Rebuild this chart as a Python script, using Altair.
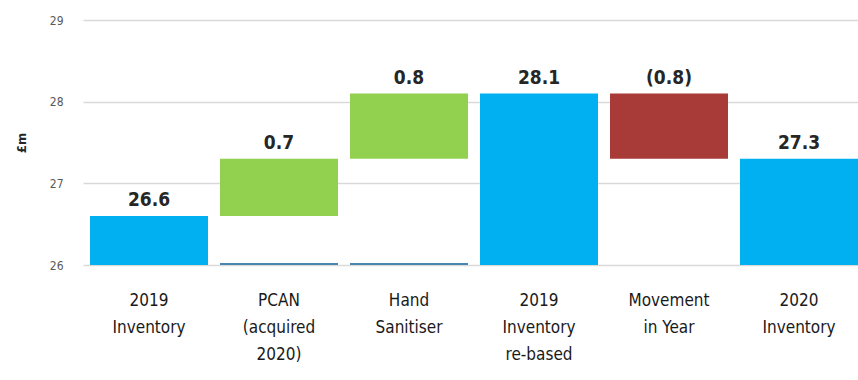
import altair as alt
import pandas as pd

categories = ["2019\nInventory", "PCAN\n(acquired\n2020)", "Hand\nSanitiser",
              "2019\nInventory\nre-based", "Movement\nin Year", "2020\nInventory"]
starts = [26.0, 26.6, 27.3, 26.0, 28.1, 26.0]
ends = [26.6, 27.3, 28.1, 28.1, 27.3, 27.3]
labels = ["26.6", "0.7", "0.8", "28.1", "(0.8)", "27.3"]
kinds = ["total", "increase", "increase", "total", "decrease", "total"]
base_stub = [False, True, True, False, False, False]

df = pd.DataFrame({
    "cat": categories, "start": starts, "end": ends, "label": labels, "kind": kinds,
})
df["top"] = df[["start", "end"]].max(axis=1)
df["lo"] = df[["start", "end"]].min(axis=1)

stub = pd.DataFrame({"cat": [c for c, b in zip(categories, base_stub) if b]})
stub["y0"] = 26.0
stub["y1"] = 26.025

FONT = "Liberation Sans Narrow, DejaVu Sans Condensed, Roboto Condensed, Arial Narrow, sans-serif"

xscale = alt.Scale(paddingInner=0.0923, paddingOuter=0.027, align=1)
xaxis = alt.Axis(title=None, labelExpr="split(datum.value, '\\n')",
                 labelAngle=0, labelFontSize=17, labelColor="#1a1a1a",
                 labelFont=FONT, labelLineHeight=27, labelPadding=27,
                 domain=False, ticks=False, grid=False, labelBaseline="top")
yscale = alt.Scale(domain=[26, 29], nice=False, zero=False)
yaxis = alt.Axis(title="£m", values=[26, 27, 28, 29], grid=True, format="d",
                 gridColor="#d9d9d9", gridWidth=1.5, domain=False, ticks=False,
                 labelFontSize=12, labelColor="#595959", labelFont=FONT,
                 labelPadding=20, titleFontSize=13, titleFontWeight="bold",
                 titleColor="#262626", titlePadding=21, titleFont=FONT)


def X():
    return alt.X("cat:N", sort=categories, scale=xscale, axis=xaxis)


bars = alt.Chart(df).mark_bar(clip=True).encode(
    x=X(),
    y=alt.Y("lo:Q", scale=yscale, axis=yaxis),
    y2="top:Q",
    color=alt.Color("kind:N",
                    scale=alt.Scale(domain=["total", "increase", "decrease"],
                                    range=["#00B0F0", "#92D050", "#A83A38"]),
                    legend=None),
)

stubs = alt.Chart(stub).mark_bar(color="#4A86AE").encode(
    x=X(), y=alt.Y("y0:Q", scale=yscale, axis=yaxis), y2="y1:Q"
)

text = alt.Chart(df).mark_text(baseline="bottom", dy=-6, fontSize=19,
                               fontWeight="bold", color="#262626", font=FONT).encode(
    x=X(), y=alt.Y("top:Q", scale=yscale, axis=yaxis), text="label:N"
)

chart = alt.layer(bars, stubs, text).properties(
    width=775, height=245,
    background="white",
    autosize=alt.AutoSizeParams(type="none"),
    padding={"left": 83, "top": 20, "right": 0, "bottom": 115},
).configure_view(strokeWidth=0, stroke="transparent")

chart.save("out.html", embed_options={"renderer": "svg", "actions": False})
